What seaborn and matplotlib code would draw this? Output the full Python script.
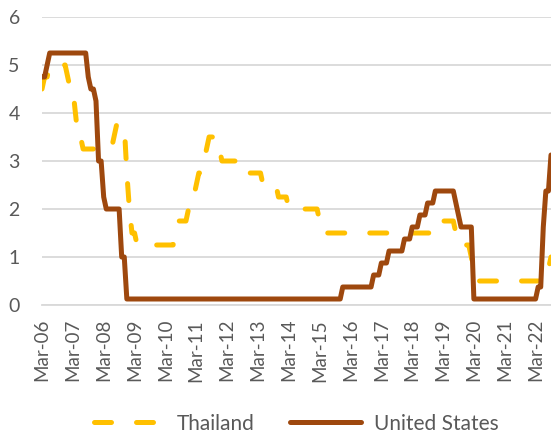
import pandas as pd
import matplotlib
matplotlib.use("Agg")
import matplotlib.pyplot as plt
import seaborn as sns

# monthly policy rates (%), Mar-2006 .. Sep-2022
thailand_rate = (
    [4.5, 4.75, 4.75, 5.0, 5.0, 5.0, 5.0, 5.0, 5.0, 5.0]                      # 2006 (Mar-Dec)
    + [4.75, 4.5, 4.5, 4.0, 3.5, 3.5, 3.25, 3.25, 3.25, 3.25, 3.25, 3.25]      # 2007
    + [3.25, 3.25, 3.25, 3.25, 3.25, 3.25, 3.5, 3.75, 3.75, 3.75, 3.75, 2.75]  # 2008
    + [2.0, 1.5, 1.5, 1.25, 1.25, 1.25, 1.25, 1.25, 1.25, 1.25, 1.25, 1.25]    # 2009
    + [1.25, 1.25, 1.25, 1.25, 1.25, 1.25, 1.5, 1.75, 1.75, 1.75, 1.75, 2.0]   # 2010
    + [2.25, 2.25, 2.5, 2.75, 2.75, 3.0, 3.25, 3.5, 3.5, 3.5, 3.25, 3.25]      # 2011
    + [3.0, 3.0, 3.0, 3.0, 3.0, 3.0, 3.0, 3.0, 3.0, 2.75, 2.75, 2.75]          # 2012
    + [2.75, 2.75, 2.75, 2.75, 2.5, 2.5, 2.5, 2.5, 2.5, 2.5, 2.25, 2.25]       # 2013
    + [2.25, 2.25, 2.0, 2.0, 2.0, 2.0, 2.0, 2.0, 2.0, 2.0, 2.0, 2.0]           # 2014
    + [2.0, 2.0, 1.75, 1.5, 1.5, 1.5, 1.5, 1.5, 1.5, 1.5, 1.5, 1.5]            # 2015
    + [1.5, 1.5, 1.5, 1.5, 1.5, 1.5, 1.5, 1.5, 1.5, 1.5, 1.5, 1.5]             # 2016
    + [1.5, 1.5, 1.5, 1.5, 1.5, 1.5, 1.5, 1.5, 1.5, 1.5, 1.5, 1.5]             # 2017
    + [1.5, 1.5, 1.5, 1.5, 1.5, 1.5, 1.5, 1.5, 1.5, 1.5, 1.5, 1.75]            # 2018
    + [1.75, 1.75, 1.75, 1.75, 1.75, 1.75, 1.75, 1.5, 1.5, 1.5, 1.25, 1.25]    # 2019
    + [1.25, 1.0, 0.75, 0.75, 0.5, 0.5, 0.5, 0.5, 0.5, 0.5, 0.5, 0.5]          # 2020
    + [0.5, 0.5, 0.5, 0.5, 0.5, 0.5, 0.5, 0.5, 0.5, 0.5, 0.5, 0.5]             # 2021
    + [0.5, 0.5, 0.5, 0.5, 0.5, 0.5, 0.5, 0.75, 1.0]                           # 2022 (Jan-Sep)
)

us_rate = (
    [4.75, 4.75, 5.0, 5.25, 5.25, 5.25, 5.25, 5.25, 5.25, 5.25]                        # 2006 (Mar-Dec)
    + [5.25, 5.25, 5.25, 5.25, 5.25, 5.25, 5.25, 5.25, 4.75, 4.5, 4.5, 4.25]            # 2007
    + [3.0, 3.0, 2.25, 2.0, 2.0, 2.0, 2.0, 2.0, 2.0, 1.0, 1.0, 0.125]                   # 2008
    + [0.125] * 12                                                                      # 2009
    + [0.125] * 12                                                                      # 2010
    + [0.125] * 12                                                                      # 2011
    + [0.125] * 12                                                                      # 2012
    + [0.125] * 12                                                                      # 2013
    + [0.125] * 12                                                                      # 2014
    + [0.125] * 11 + [0.375]                                                            # 2015
    + [0.375] * 11 + [0.625]                                                            # 2016
    + [0.625, 0.625, 0.875, 0.875, 0.875, 1.125, 1.125, 1.125, 1.125, 1.125, 1.125, 1.375]  # 2017
    + [1.375, 1.375, 1.625, 1.625, 1.625, 1.875, 1.875, 1.875, 2.125, 2.125, 2.125, 2.375]  # 2018
    + [2.375, 2.375, 2.375, 2.375, 2.375, 2.375, 2.375, 2.125, 1.875, 1.625, 1.625, 1.625]  # 2019
    + [1.625, 1.625] + [0.125] * 10                                                     # 2020
    + [0.125] * 12                                                                      # 2021
    + [0.125, 0.125, 0.125, 0.375, 0.375, 1.625, 2.375, 2.375, 3.125]                   # 2022 (Jan-Sep)
)

tick_labels = ["Mar-06", "Mar-07", "Mar-08", "Mar-09", "Mar-10", "Mar-11", "Mar-12",
               "Mar-13", "Mar-14", "Mar-15", "Mar-16", "Mar-17", "Mar-18", "Mar-19",
               "Mar-20", "Mar-21", "Mar-22"]

df = pd.DataFrame({
    "month": range(len(us_rate)),
    "Thailand": thailand_rate,
    "United States": us_rate,
})

sns.set_style("white")
plt.rcParams["font.family"] = ["Lato", "DejaVu Sans"]

fig = plt.figure(figsize=(5.51, 4.48), dpi=100)
ax = fig.add_axes([42 / 551, 1 - 305 / 448, 509 / 551, 288 / 448])

sns.lineplot(data=df, x="month", y="Thailand", ax=ax, color="#FFC000", lw=3.6,
             linestyle=(0, (3.4, 5.0)), dash_capstyle="round", label="Thailand")
sns.lineplot(data=df, x="month", y="United States", ax=ax, color="#9E480E", lw=3.6,
             solid_joinstyle="round", label="United States")

ax.set_xlim(0, len(us_rate) - 1)
ax.set_ylim(0, 6)
ax.set_yticks(range(7))
ax.set_xticks(range(0, 12 * len(tick_labels), 12))
ax.set_xticklabels(tick_labels, rotation=90)
ax.set_xlabel("")
ax.set_ylabel("")

ax.yaxis.grid(True, color="#d9d9d9", lw=1.3)
ax.set_axisbelow(True)
for side in ["left", "top", "right"]:
    ax.spines[side].set_visible(False)
ax.spines["bottom"].set_color("#d9d9d9")
ax.spines["bottom"].set_linewidth(1.3)

ax.tick_params(axis="x", length=4, width=1.3, color="#d9d9d9", labelsize=13.5,
               labelcolor="#595959", pad=6)
ax.tick_params(axis="y", length=0, labelsize=14, labelcolor="#595959", pad=16)

handles, labels = ax.get_legend_handles_labels()
ax.get_legend().remove()
fig.legend(handles, labels, loc="lower center", bbox_to_anchor=(296 / 551, -0.01),
           ncol=2, frameon=False, fontsize=15, handlelength=3.4, columnspacing=1.7,
           handletextpad=0.6, labelcolor="#595959")

fig.savefig("out.png", dpi=100)
